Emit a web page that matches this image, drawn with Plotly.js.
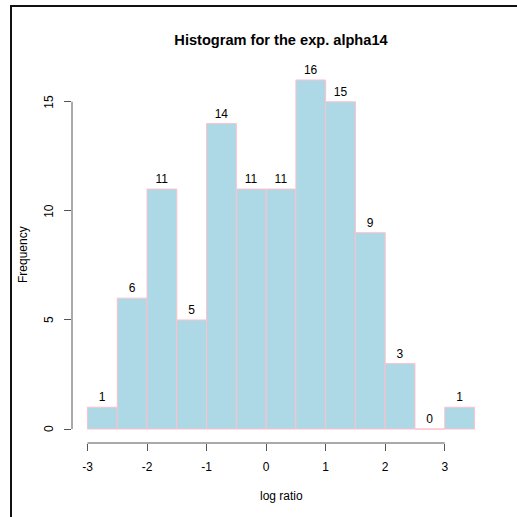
<!DOCTYPE html>
<html>
<head>
<meta charset="utf-8">
<script src="https://cdn.plot.ly/plotly-3.0.1.min.js"></script>
<style>
  html, body { margin: 0; padding: 0; background: #ffffff; }
  #wrap { position: relative; width: 517px; height: 517px; overflow: hidden; }
  #chart { position: absolute; left: 0; top: 0; width: 517px; height: 517px; }
  #frame { position: absolute; left: 10px; top: 5px; width: 600px; height: 600px;
           border-top: 2px solid #111; border-left: 2px solid #111; pointer-events: none; }
</style>
</head>
<body>
<div id="wrap">
  <div id="chart"></div>
  <div id="frame"></div>
</div>
<script>
// Histogram of log ratios, bins of width 0.5
var breaks = [-3, -2.5, -2, -1.5, -1, -0.5, 0, 0.5, 1, 1.5, 2, 2.5, 3, 3.5];
var counts = [1, 6, 11, 5, 14, 11, 11, 16, 15, 9, 3, 0, 1];
var xTicks = [-3, -2, -1, 0, 1, 2, 3];
var yTicks = [0, 5, 10, 15];

var mids = [], widths = [];
for (var i = 0; i < counts.length; i++) {
  mids.push((breaks[i] + breaks[i + 1]) / 2);
  widths.push(breaks[i + 1] - breaks[i]);
}

var font = 'Liberation Sans, Arial, Helvetica, sans-serif';
var axisColor = '#555555';

// R-style axis range: data range padded by 4% on each side
var xLo = breaks[0], xHi = breaks[breaks.length - 1];
var xPad = (xHi - xLo) * 0.04;
var yHi = Math.max.apply(null, counts);
var yPad = yHi * 0.04;

var trace = {
  type: 'bar',
  x: mids,
  y: counts,
  width: widths,
  marker: { color: '#ADD8E6', line: { color: '#FFC0CB', width: 1 } },
  text: counts.map(String),
  textposition: 'outside',
  constraintext: 'none',
  textfont: { family: font, size: 12, color: '#000' },
  cliponaxis: false,
  hoverinfo: 'x+y'
};

// vertical y tick labels, placed beside each tick
var yLabelNotes = yTicks.map(function (v) {
  return { text: String(v), xref: 'paper', yref: 'y', x: 0, y: v,
           xanchor: 'center', yanchor: 'middle', xshift: -23, textangle: -90,
           showarrow: false, font: { family: font, size: 12, color: '#000' } };
});

var layout = {
  width: 517,
  height: 517,
  margin: { l: 71.5, r: 27, t: 66, b: 74 },
  paper_bgcolor: '#ffffff',
  plot_bgcolor: '#ffffff',
  showlegend: false,
  bargap: 0,
  title: {
    text: '<b>Histogram for the exp. alpha14</b>',
    font: { family: font, size: 14.6, color: '#000' },
    x: 0.5, xref: 'paper',
    y: 1 - 40 / 517, yref: 'container', yanchor: 'middle'
  },
  xaxis: {
    range: [xLo - xPad, xHi + xPad],
    tickvals: xTicks,
    ticktext: xTicks.map(String),
    ticks: 'outside', ticklen: 7, tickwidth: 1, tickcolor: axisColor,
    tickfont: { family: font, size: 12, color: '#000' },
    ticklabelstandoff: 6,
    showgrid: false, zeroline: false, showline: false
  },
  yaxis: {
    range: [-yPad, yHi + yPad],
    tickvals: yTicks,
    showticklabels: false,
    ticks: 'outside', ticklen: 7, tickwidth: 1, tickcolor: axisColor,
    showgrid: false, zeroline: false, showline: false
  },
  shapes: [
    // x axis line spans first to last tick
    { type: 'line', xref: 'x', yref: 'paper', x0: xTicks[0], x1: xTicks[xTicks.length - 1],
      y0: 0, y1: 0, line: { color: axisColor, width: 1 } },
    // y axis line spans first to last tick
    { type: 'line', xref: 'paper', yref: 'y', x0: 0, x1: 0,
      y0: yTicks[0], y1: yTicks[yTicks.length - 1], line: { color: axisColor, width: 1 } }
  ],
  annotations: [
    { text: 'log ratio', xref: 'paper', yref: 'paper', x: 0.5, y: 0,
      yanchor: 'middle', yshift: -53, showarrow: false,
      font: { family: font, size: 12, color: '#000' } },
    { text: 'Frequency', xref: 'paper', yref: 'paper', x: 0, y: 0.5,
      xanchor: 'center', xshift: -49.5, textangle: -90, showarrow: false,
      font: { family: font, size: 12, color: '#000' } }
  ].concat(yLabelNotes)
};

Plotly.newPlot('chart', [trace], layout, { displayModeBar: false, staticPlot: true });
</script>
</body>
</html>
